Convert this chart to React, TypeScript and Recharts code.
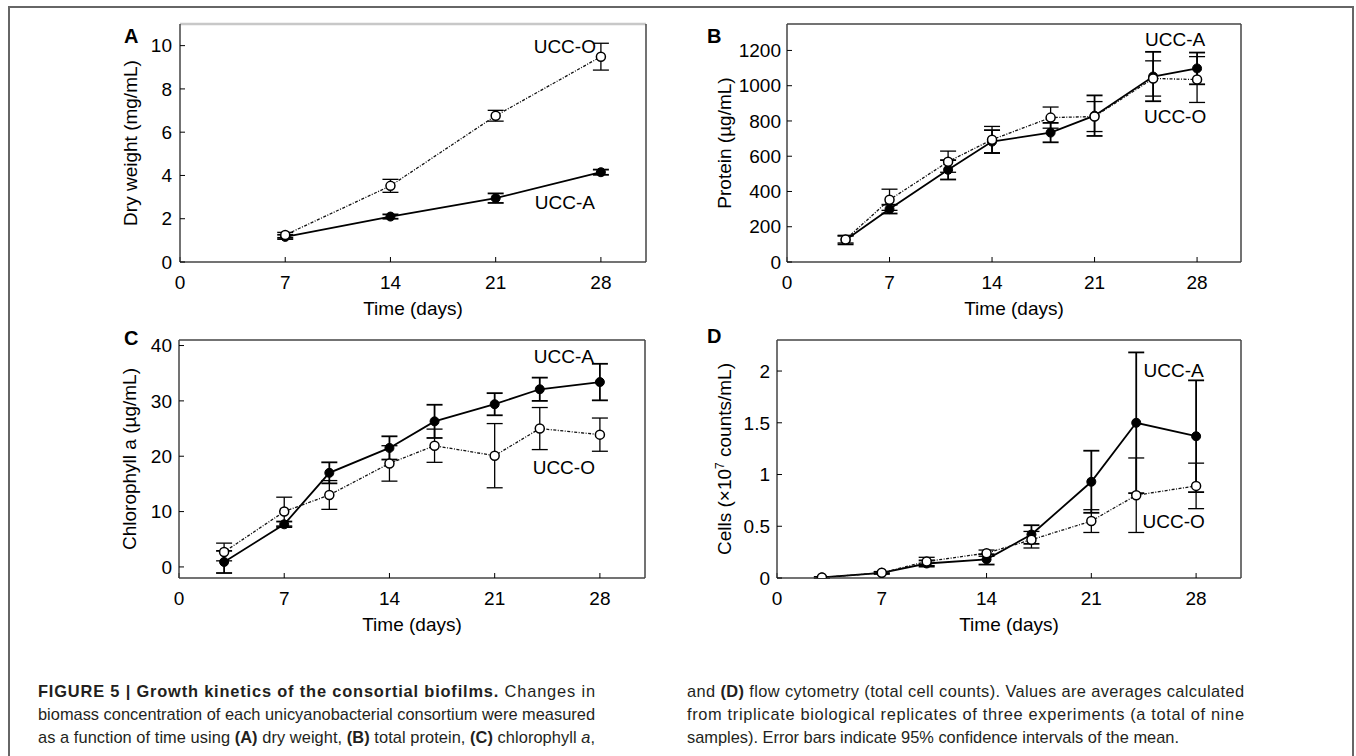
import React from "react";
import { LineChart, Line, XAxis, YAxis, ErrorBar, ReferenceDot, Label } from "recharts";

const FONT = "'Liberation Sans', Arial, Helvetica, sans-serif";
const X_TICKS = [0, 7, 14, 21, 28];

// (A) dry weight, mg/mL
const daysA = [7, 14, 21, 28];
const dryA = [1.16, 2.1, 2.95, 4.15];
const dryAErr = [0.1, 0.1, 0.22, 0.12];
const dryO = [1.25, 3.52, 6.76, 9.49];
const dryOErr = [0.12, 0.3, 0.25, 0.62];

// (B) protein, ug/mL
const daysB = [4, 7, 11, 14, 18, 21, 25, 28];
const proteinA = [125, 300, 523, 683, 734, 830, 1052, 1098];
const proteinAErr = [25, 25, 55, 65, 55, 115, 140, 90];
const proteinO = [128, 353, 569, 694, 819, 825, 1041, 1035];
const proteinOErr = [20, 60, 60, 75, 60, 85, 100, 130];

// (C) chlorophyll a, ug/mL
const daysC = [3, 7, 10, 14, 17, 21, 24, 28];
const chlA = [0.9, 7.7, 17.0, 21.5, 26.3, 29.4, 32.1, 33.4];
const chlAErr = [2.0, 0.5, 1.9, 2.1, 3.0, 2.0, 2.1, 3.3];
const chlO = [2.7, 10.0, 13.0, 18.7, 21.9, 20.1, 25.0, 23.9];
const chlOErr = [1.6, 2.6, 2.6, 3.2, 3.0, 5.8, 3.8, 3.0];

// (D) cells, x10^7 counts/mL
const daysD = [3, 7, 10, 14, 17, 21, 24, 28];
const cellsA = [0.005, 0.05, 0.14, 0.18, 0.42, 0.93, 1.5, 1.37];
const cellsAErr = [0.005, 0.01, 0.03, 0.05, 0.09, 0.3, 0.68, 0.54];
const cellsO = [0.005, 0.05, 0.16, 0.24, 0.37, 0.55, 0.8, 0.89];
const cellsOErr = [0.005, 0.01, 0.04, 0.03, 0.08, 0.11, 0.36, 0.22];

const rows = (days: number[], a: number[], aErr: number[], o: number[], oErr: number[]) =>
  days.map((d, i) => ({ day: d, a: a[i], aErr: aErr[i], o: o[i], oErr: oErr[i] }));

const yTitle = (parts: React.ReactNode) => (props: any) => {
  const vb = props.viewBox || {};
  const cx = vb.x + 10;
  const cy = vb.y + vb.height / 2;
  return (
    <text x={cx} y={cy} dy={7} transform={`rotate(-90 ${cx} ${cy})`} textAnchor="middle"
      fontSize={19} fontFamily={FONT} fill="#000">
      {parts}
    </text>
  );
};

interface PanelProps {
  data: any[];
  left: number;
  top: number;
  width: number;
  yWidth: number;
  yDomain: [number, number];
  yTicks: number[];
  tickMargin: number;
  title: React.ReactNode;
  labelX: number;
  labelAY: number;
  labelOY: number;
  topStroke?: string;
}

function Panel(p: PanelProps) {
  const tickFont = { fill: "#000", fontSize: 19, fontFamily: FONT };
  const axisLine = { stroke: "#444", strokeWidth: 1.5 };
  return (
    <div style={{ position: "absolute", left: p.left, top: p.top }}>
      <LineChart width={p.width} height={322} data={p.data}
        margin={{ top: 23, right: 4, bottom: 0, left: 0 }}>
        <XAxis xAxisId="x" dataKey="day" type="number" domain={[0, 31]} ticks={X_TICKS}
          height={60} tickSize={-5} tickMargin={19} allowDataOverflow
          axisLine={axisLine} tickLine={{ stroke: "#000" }} tick={tickFont}>
          <Label value="Time (days)" position="insideBottom" offset={7}
            fill="#000" fontSize={19} fontFamily={FONT} />
        </XAxis>
        <XAxis xAxisId="xt" orientation="top" type="number" domain={[0, 31]} ticks={X_TICKS}
          height={1} tickSize={-5} tick={false} allowDataOverflow
          axisLine={{ stroke: p.topStroke || "#444", strokeWidth: p.topStroke ? 2.5 : 1.5 }}
          tickLine={{ stroke: "#000" }} />
        <YAxis yAxisId="y" type="number" domain={p.yDomain} ticks={p.yTicks} width={p.yWidth}
          tickSize={-5} tickMargin={p.tickMargin} allowDataOverflow
          axisLine={axisLine} tickLine={{ stroke: "#000" }} tick={tickFont}
          label={{ content: yTitle(p.title) }} />
        <YAxis yAxisId="yr" orientation="right" type="number" domain={p.yDomain} ticks={p.yTicks}
          width={1} tickSize={-5} tick={false} allowDataOverflow
          axisLine={axisLine} tickLine={{ stroke: "#000" }} />
        <Line xAxisId="x" yAxisId="y" dataKey="a" stroke="#000" strokeWidth={1.8}
          isAnimationActive={false}
          dot={{ r: 4.5, fill: "#000", stroke: "#000", strokeWidth: 1 }}>
          <ErrorBar dataKey="aErr" direction="y" width={8} stroke="#000" strokeWidth={1.8} />
        </Line>
        <Line xAxisId="x" yAxisId="y" dataKey="o" stroke="#111" strokeWidth={1.3}
          strokeDasharray="3 1.5 1 1.5" isAnimationActive={false}
          dot={{ r: 4.5, fill: "#fff", stroke: "#000", strokeWidth: 1.5, strokeDasharray: "0" }}>
          <ErrorBar dataKey="oErr" direction="y" width={8} stroke="#000" strokeWidth={1.3} />
        </Line>
        <ReferenceDot xAxisId="x" yAxisId="y" x={p.labelX} y={p.labelAY} r={1} fill="none" stroke="none"
          label={{ value: "UCC-A", position: "center", fill: "#000", fontSize: 19, fontFamily: FONT }} />
        <ReferenceDot xAxisId="x" yAxisId="y" x={p.labelX} y={p.labelOY} r={1} fill="none" stroke="none"
          label={{ value: "UCC-O", position: "center", fill: "#000", fontSize: 19, fontFamily: FONT }} />
      </LineChart>
    </div>
  );
}

// caption is set justified in two columns
const COL_W = 557;
const capStyle = { fontSize: 16.4, fontFamily: FONT, fill: "#231f20" };

export default function App() {
  return (
    <div style={{ position: "absolute", left: 0, top: 0, width: 1356, height: 756, background: "#fff", overflow: "hidden" }}>
      <div style={{ position: "absolute", left: 8, top: 6, width: 1346, height: 780, border: "2px solid #666", boxSizing: "border-box" }} />
      <Panel data={rows(daysA, dryA, dryAErr, dryO, dryOErr)} left={120} top={0} width={531}
        yWidth={60} yDomain={[0, 11]} yTicks={[0, 2, 4, 6, 8, 10]} tickMargin={13}
        title="Dry weight (mg/mL)" labelX={25.6} labelAY={2.78} labelOY={9.95} topStroke="#c8c8c8" />
      <Panel data={rows(daysB, proteinA, proteinAErr, proteinO, proteinOErr)} left={714} top={0} width={532}
        yWidth={73} yDomain={[0, 1350]} yTicks={[0, 200, 400, 600, 800, 1000, 1200]} tickMargin={11}
        title="Protein (µg/mL)" labelX={26.5} labelAY={1263} labelOY={825} />
      <Panel data={rows(daysC, chlA, chlAErr, chlO, chlOErr)} left={119} top={316} width={531}
        yWidth={60} yDomain={[-2, 41]} yTicks={[0, 10, 20, 30, 40]} tickMargin={12}
        title="Chlorophyll a (µg/mL)" labelX={25.6} labelAY={38.1} labelOY={18.0} />
      <Panel data={rows(daysD, cellsA, cellsAErr, cellsO, cellsOErr)} left={714} top={316} width={532}
        yWidth={63} yDomain={[0, 2.3]} yTicks={[0, 0.5, 1, 1.5, 2]} tickMargin={12}
        title={<>
          <tspan>Cells (×10</tspan>
          <tspan dy={-7} fontSize={12}>7</tspan>
          <tspan dy={7}> counts/mL)</tspan>
        </>}
        labelX={26.5} labelAY={2.01} labelOY={0.55} />
      <svg width={1356} height={756} style={{ position: "absolute", left: 0, top: 0, pointerEvents: "none" }}>
        <g fontFamily={FONT} fontWeight="bold" fontSize={20} fill="#000">
          <text x={124} y={43}>A</text>
          <text x={707} y={43}>B</text>
          <text x={124} y={345}>C</text>
          <text x={707} y={343}>D</text>
        </g>
        <g {...capStyle}>
          <text x={38} y={697} textLength={COL_W} lengthAdjust="spacing">
            <tspan fontWeight="bold">FIGURE 5 | Growth kinetics of the consortial biofilms.</tspan> Changes in
          </text>
          <text x={38} y={720} textLength={COL_W} lengthAdjust="spacing">biomass concentration of each unicyanobacterial consortium were measured</text>
          <text x={38} y={743} textLength={COL_W} lengthAdjust="spacing">
            as a function of time using <tspan fontWeight="bold">(A)</tspan> dry weight, <tspan fontWeight="bold">(B)</tspan> total protein, <tspan fontWeight="bold">(C)</tspan> chlorophyll <tspan fontStyle="italic">a</tspan>,
          </text>
          <text x={687} y={697} textLength={COL_W} lengthAdjust="spacing">
            and <tspan fontWeight="bold">(D)</tspan> flow cytometry (total cell counts). Values are averages calculated
          </text>
          <text x={687} y={720} textLength={COL_W} lengthAdjust="spacing">from triplicate biological replicates of three experiments (a total of nine</text>
          <text x={687} y={743}>samples). Error bars indicate 95% confidence intervals of the mean.</text>
        </g>
      </svg>
    </div>
  );
}
